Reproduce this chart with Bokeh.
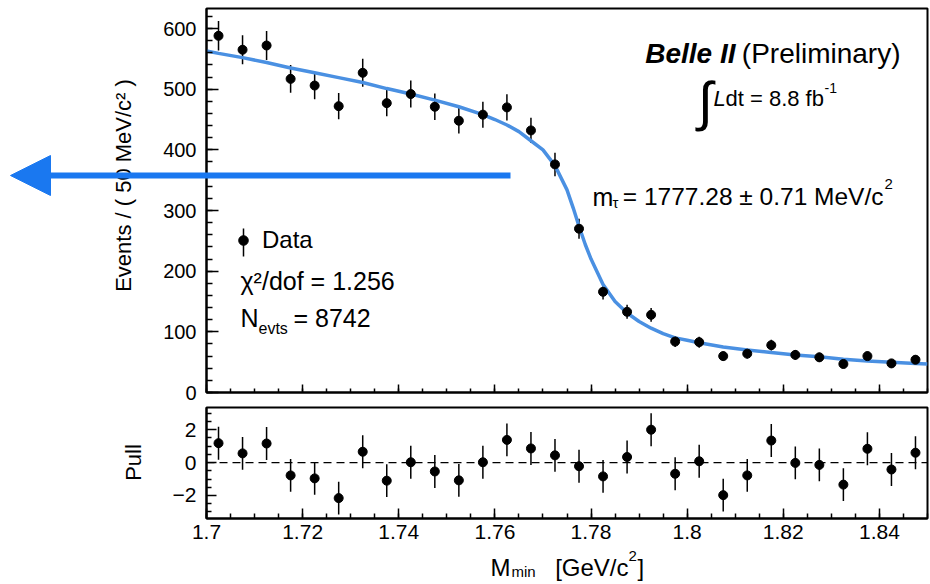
import math
from bokeh.plotting import figure
from bokeh.layouts import column, row
from bokeh.models import (Range1d, SingleIntervalTicker, FixedTicker, NumeralTickFormatter,
                          CustomJSTickFormatter, Label, Span, Arrow, NormalHead, Legend,
                          LegendItem, ColumnDataSource)
from bokeh.embed import file_html
from bokeh.resources import INLINE

# ---------------- data ----------------
bin_centers = [1.7025, 1.7075, 1.7125, 1.7175, 1.7225, 1.7275, 1.7325, 1.7375, 1.7425, 1.7475,
               1.7525, 1.7575, 1.7625, 1.7675, 1.7725, 1.7775, 1.7825, 1.7875, 1.7925, 1.7975,
               1.8025, 1.8075, 1.8125, 1.8175, 1.8225, 1.8275, 1.8325, 1.8375, 1.8425, 1.8475]
counts = [588, 565, 572, 517, 506, 472, 527, 477, 492, 471,
          448, 458, 470, 432, 376, 270, 166, 133, 128, 84,
          83, 60, 64, 78, 62, 58, 47, 60, 48, 54]
count_err = [24.2, 23.8, 23.9, 22.7, 22.5, 21.7, 23.0, 21.8, 22.2, 21.7,
             21.2, 21.4, 21.7, 20.8, 19.4, 16.4, 12.9, 11.5, 11.3, 9.2,
             9.1, 7.7, 8.0, 8.8, 7.9, 7.6, 6.9, 7.7, 6.9, 7.3]
pulls = [1.18, 0.56, 1.16, -0.78, -0.96, -2.16, 0.66, -1.10, 0.02, -0.54,
         -1.08, 0.02, 1.38, 0.86, 0.44, -0.22, -0.84, 0.34, 2.00, -0.68,
         0.08, -1.98, -0.78, 1.34, -0.02, -0.14, -1.34, 0.84, -0.42, 0.60]
pull_err = [1.0, 1.0, 1.0, 1.0, 1.0, 1.0, 1.0, 1.0, 1.0, 1.0,
            1.0, 1.0, 1.0, 1.0, 1.0, 1.0, 1.0, 1.0, 1.0, 1.0,
            1.0, 1.0, 1.0, 1.0, 1.0, 1.0, 1.0, 1.0, 1.0, 1.0]
fit_x = [1.7000, 1.7025, 1.7075, 1.7125, 1.7175, 1.7225, 1.7275, 1.7325, 1.7375, 1.7425,
         1.7475, 1.7525, 1.7575, 1.7600, 1.7625, 1.7650, 1.7675, 1.7700, 1.7725, 1.7750,
         1.7763, 1.7775, 1.7788, 1.7800, 1.7825, 1.7850, 1.7875, 1.7900, 1.7925, 1.7950,
         1.7975, 1.8000, 1.8025, 1.8075, 1.8125, 1.8175, 1.8225, 1.8275, 1.8325, 1.8375,
         1.8425, 1.8475, 1.8500]
fit_y = [563, 559, 552, 544, 535, 527, 519, 511, 501, 492,
         482, 471, 458, 450, 441, 430, 415, 400, 374, 334,
         304, 274, 244, 220, 178, 150, 131, 117, 106, 97,
         90, 86, 82, 75, 70, 66, 62, 59, 55, 52,
         50, 48, 47]

FONT = "Liberation Sans"
FIT_COLOR = "#4a90e2"
ARROW_COLOR = "#1a78f0"

# pixel helpers for annotation placement inside the top frame
def X(px):
    return 1.7 + (px - 206) * 0.15 / 721.0

def Y1(py):
    return (392 - py) * 633.0 / 384.0


def style_axis(ax, major_in, minor_in, size):
    ax.major_tick_in = major_in
    ax.major_tick_out = 0
    ax.minor_tick_in = minor_in
    ax.minor_tick_out = 0
    ax.axis_line_width = 2
    ax.axis_line_color = "black"
    ax.major_tick_line_width = 1.5
    ax.minor_tick_line_width = 1.5
    ax.major_tick_line_color = "black"
    ax.minor_tick_line_color = "black"
    ax.major_label_text_font = FONT
    ax.major_label_text_font_size = size
    ax.major_label_text_color = "black"


def lab(p, x, y, text, size, align="left", baseline="alphabetic", style="normal", angle=0.0):
    p.add_layout(Label(x=x, y=y, text=text, text_font=FONT, text_font_size=size,
                       text_align=align, text_baseline=baseline, text_font_style=style,
                       text_color="black", angle=angle))


xr = Range1d(1.7, 1.85)

# ---------------- top panel ----------------
p1 = figure(width=930, height=404, x_range=xr, y_range=Range1d(0, 633),
            output_backend="svg", toolbar_location=None,
            min_border_left=206, min_border_right=3, min_border_top=8, min_border_bottom=12)
p1.grid.visible = False
p1.outline_line_color = "black"
p1.outline_line_width = 2
p1.outline_line_alpha = 1
p1.background_fill_color = "white"
p1.border_fill_color = "white"

p1.yaxis.ticker = SingleIntervalTicker(interval=100, num_minor_ticks=5)
style_axis(p1.yaxis[0], 12, 6, "20px")
p1.yaxis.major_label_standoff = 10
p1.xaxis.ticker = SingleIntervalTicker(interval=0.02, num_minor_ticks=4)
style_axis(p1.xaxis[0], 8, 4, "0px")
p1.xaxis.formatter = CustomJSTickFormatter(code="return ''")
p1.xaxis.major_label_standoff = 0

src = ColumnDataSource(dict(x=bin_centers, y=counts,
                            lo=[c - e for c, e in zip(counts, count_err)],
                            hi=[c + e for c, e in zip(counts, count_err)]))
p1.segment(x0="x", y0="lo", x1="x", y1="hi", source=src, line_color="black", line_width=1.5)
p1.line(fit_x, fit_y, line_color=FIT_COLOR, line_width=3.5, line_join="round")
r_data = p1.scatter("x", "y", source=src, size=9, color="black")

legend = Legend(items=[LegendItem(label="Data", renderers=[r_data])],
                location=(25, 138), glyph_width=24, glyph_height=24, label_height=24,
                label_standoff=7, padding=0, margin=0, spacing=0,
                border_line_color=None, background_fill_alpha=0,
                label_text_font=FONT, label_text_font_size="24px", label_text_color="black")
p1.add_layout(legend)
p1.add_layout(Arrow(start=None, end=None, x_start=X(243), y_start=Y1(228),
                    x_end=X(243), y_end=Y1(256), line_width=1.5, line_color="black"))

# Belle II header
lab(p1, X(735), Y1(53), "Belle II", "28px", align="right", style="bold italic")
lab(p1, X(900), Y1(53), "(Preliminary)", "28px", align="right")
lab(p1, X(705), Y1(100), "\u222b", "54px", align="center", baseline="middle")
lab(p1, X(713), Y1(98), "L", "22px", style="italic")
lab(p1, X(725), Y1(98), "dt = 8.8 fb", "22px")
lab(p1, X(824), Y1(87), "-1", "14px")

# mass result
lab(p1, X(592), Y1(196), "m", "25px")
lab(p1, X(612), Y1(202), "\u03c4", "15px")
lab(p1, X(883), Y1(196), "= 1777.28 \u00b1 0.71 MeV/c", "24.5px", align="right")
lab(p1, X(884), Y1(183), "2", "15px")

# fit info
lab(p1, X(240), Y1(280), "\u03c7\u00b2/dof = 1.256", "25px", baseline="middle")
lab(p1, X(240), Y1(317), "N", "25px", baseline="middle")
lab(p1, X(258), Y1(328), "evts", "16px", baseline="middle")
lab(p1, X(293), Y1(317), "= 8742", "25px", baseline="middle")

# ---------------- pull panel ----------------
p2 = figure(width=930, height=180, x_range=xr, y_range=Range1d(-3.4, 3.35),
            output_backend="svg", toolbar_location=None,
            min_border_left=206, min_border_right=3, min_border_top=3, min_border_bottom=66)
p2.grid.visible = False
p2.outline_line_color = "black"
p2.outline_line_width = 2
p2.outline_line_alpha = 1
p2.background_fill_color = "white"
p2.border_fill_color = "white"

p2.xaxis.ticker = SingleIntervalTicker(interval=0.02, num_minor_ticks=4)
p2.xaxis.formatter = NumeralTickFormatter(format="0.[00]")
style_axis(p2.xaxis[0], 10, 5, "21px")
p2.xaxis.major_label_standoff = 6
p2.yaxis.ticker = FixedTicker(ticks=[-2, 0, 2],
                              minor_ticks=[-3, -2.5, -1.5, -1, -0.5, 0.5, 1, 1.5, 2.5, 3])
style_axis(p2.yaxis[0], 10, 5, "21px")
p2.yaxis.major_label_overrides = {-2: "\u22122"}
p2.yaxis.major_label_standoff = 10

p2.add_layout(Span(location=0, dimension="width", line_color="black",
                   line_dash="8 5", line_width=1.3))
src2 = ColumnDataSource(dict(x=bin_centers, y=pulls,
                             lo=[v - e for v, e in zip(pulls, pull_err)],
                             hi=[v + e for v, e in zip(pulls, pull_err)]))
p2.segment(x0="x", y0="lo", x1="x", y1="hi", source=src2, line_color="black", line_width=1.5)
p2.scatter("x", "y", source=src2, size=9, color="black")

# ---------------- transparent overlay (pixel coordinates) for texts outside the frames ----------------
po = figure(width=930, height=584, x_range=Range1d(0, 930), y_range=Range1d(584, 0),
            x_axis_type=None, y_axis_type=None, output_backend="svg", toolbar_location=None,
            min_border=0, min_border_left=0, min_border_right=0, min_border_top=0,
            min_border_bottom=0)
po.outline_line_color = None
po.background_fill_alpha = 0
po.border_fill_alpha = 0

lab(po, 123, 185, "Events / ( 50 MeV/c\u00b2 )", "22px", align="center",
    baseline="middle", angle=math.pi / 2)
lab(po, 133, 462, "Pull", "22px", align="center", baseline="middle", angle=math.pi / 2)

lab(po, 490, 567, "M", "24px")
lab(po, 511, 571, "min", "15px")
lab(po, 628, 567, "[GeV/c", "24px", align="right")
lab(po, 628, 555, "2", "15px")
lab(po, 637, 567, "]", "24px")

po.add_layout(Arrow(x_start=510, y_start=175, x_end=10, y_end=175, start=None,
                    end=NormalHead(size=40, fill_color=ARROW_COLOR, line_color=ARROW_COLOR),
                    line_color=ARROW_COLOR, line_width=6))

overlay = row(po, spacing=0)
overlay.margin = (-584, 0, 0, 0)
plots = column(p1, p2, spacing=0)
layout = column(plots, overlay, spacing=0)
open("out.html", "w").write(file_html(layout, INLINE))
